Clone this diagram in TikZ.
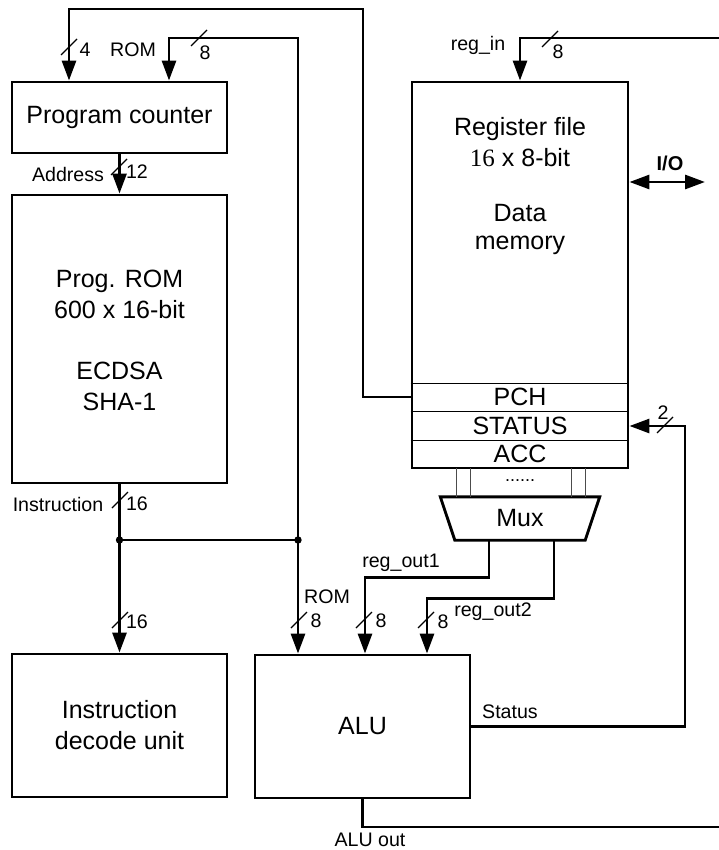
\documentclass[tikz,border=0pt]{standalone}
\usepackage{fontspec}
\setmainfont{Liberation Sans}
\newfontfamily\serifnum{Liberation Serif}
\usetikzlibrary{arrows.meta}
\tikzset{
  blk/.style={draw, line width=2.9pt, inner sep=0pt, align=center, font=\fontsize{25pt}{31pt}\selectfont},
  txt/.style={inner sep=0pt, align=center, font=\fontsize{25pt}{31pt}\selectfont},
  lbl/.style={inner sep=0pt, font=\fontsize{19.6pt}{23pt}\selectfont},
  wire/.style={line width=2.9pt},
  arr/.style={-{Triangle[length=20pt,width=14pt]}},
  darr/.style={{Triangle[length=20pt,width=14pt]}-{Triangle[length=20pt,width=14pt]}},
  busmark/.style={line width=1.3pt},
  sep/.style={line width=1pt},
  dbl/.style={line width=1pt, black!70},
}
\begin{document}
\begin{tikzpicture}[x=1pt,y=-1pt]
\useasboundingbox (0,0) rectangle (719,850);
% blocks
\node[blk, minimum width=215pt, minimum height=71pt] (pc) at (119.5,117.5) {Program counter};
\node[blk, minimum width=215pt, minimum height=288pt] (rom) at (119.5,339) {};
\node[txt] (romt1) at (119.5,294) {Prog. ROM\\600 x 16-bit};
\node[txt] (romt2) at (119.5,386) {ECDSA\\SHA-1};
\node[blk, minimum width=215pt, minimum height=143pt] (idu) at (119.5,725.5) {Instruction\\decode unit};
\node[blk, minimum width=215pt, minimum height=143pt] (alu) at (362.5,726.5) {ALU};
\node[blk, minimum width=216pt, minimum height=386pt] (rf) at (520,275) {};
\node[txt] (rft1) at (520,142.5) {Register file\\{\serifnum 16} x 8-bit};
\node[txt, font=\fontsize{25pt}{28pt}\selectfont] (rft2) at (520,229) {Data\\memory};
\draw[sep] (rf.west |- 0,383) -- (rf.east |- 0,383);
\draw[sep] (rf.west |- 0,411) -- (rf.east |- 0,411);
\draw[sep] (rf.west |- 0,440) -- (rf.east |- 0,440);
\node[txt] (pch) at (520,397) {PCH};
\node[txt] (status) at (520,425.5) {STATUS};
\node[txt] (acc) at (520,454) {ACC};
% mux
\node[txt, minimum width=130pt, minimum height=43pt] (mux) at (520,518.5) {Mux};
\draw[wire] ([xshift=-14.5pt]mux.north west) -- ([xshift=14.5pt]mux.north east) -- (mux.south east) -- (mux.south west) -- cycle;
\draw[dbl] (456,468) -- (456,497);
\draw[dbl] (470,468) -- (470,497);
\draw[dbl] (571,468) -- (571,497);
\draw[dbl] (585,468) -- (585,497);
\node[lbl, font=\fontsize{18pt}{20pt}\selectfont] (dots) at (520,481) {......};
% coordinates
\coordinate (j1) at (119.5,540);
\coordinate (j2) at (298,540);
\coordinate (t1) at (363,9);
\coordinate (r1) at (298,38);
\coordinate (m1) at ([xshift=-31pt]mux.south);
\coordinate (m2) at ([xshift=34pt]mux.south);
\coordinate (sc) at (685,426);
\coordinate (aluo) at (719,827);
\coordinate (regin) at (719,38);
\coordinate (io) at (705,182);
% wires
\draw[wire,arr] (rf.west |- pch) -| (t1) -| ([xshift=-50.5pt]pc.north);
\draw[wire,arr] (j2) -- (r1) -| ([xshift=49.5pt]pc.north);
\draw[wire,arr] (pc.south) -- (rom.north);
\draw[wire,arr] (rom.south) -- (idu.north);
\draw[wire] (j1) -- (j2);
\draw[wire,arr] (j2) -- ([xshift=-64.5pt]alu.north);
\draw[wire,arr] (m1) -- ++(0,37) -| ([xshift=2.5pt]alu.north);
\draw[wire,arr] (m2) -- ++(0,58) -| ([xshift=64.5pt]alu.north);
\draw[wire,arr] (alu.east) -| (sc) -- (rf.east |- sc);
\draw[wire] (alu.south) |- (aluo);
\draw[wire,arr] (regin) -| (rf.north);
\draw[wire,darr] (rf.east |- io) -- (io);
\fill (j1) circle (3.7pt);
\fill (j2) circle (3.7pt);
% bus width marks
\foreach \x/\y in {69/47,199/38,119/167,120/500,120/620,299/620,364/620,426/620,665/425,550/39}
  \draw[busmark] (\x,\y) ++(-8,8) -- ++(16,-16);
% labels
\node[lbl] (l4) at (85,50) {4};
\node[lbl] (lrom1) at (133,50) {ROM};
\node[lbl] (l8a) at (205,53) {8};
\node[lbl] (laddr) at (68,174) {Address};
\node[lbl] (l12) at (137,172) {12};
\node[lbl] (linstr) at (58,504) {Instruction};
\node[lbl] (l16a) at (137,504) {16};
\node[lbl] (l16b) at (137,622) {16};
\node[lbl] (lrom2) at (327,597) {ROM};
\node[lbl] (l8b) at (316,621) {8};
\node[lbl] (l8c) at (381,621) {8};
\node[lbl] (l8d) at (443,622) {8};
\node[lbl] (lro1) at (401,563) {reg\_out1};
\node[lbl] (lro2) at (493,612) {reg\_out2};
\node[lbl] (lstat) at (510,712) {Status};
\node[lbl] (l2) at (663,413) {2};
\node[lbl] (lalu) at (370,840) {ALU out};
\node[lbl] (lregin) at (478,45) {reg\_in};
\node[lbl] (l8e) at (558,52) {8};
\node[lbl, font=\bfseries\fontsize{20pt}{23pt}\selectfont] (lio) at (670,163) {I/O};
\end{tikzpicture}
\end{document}
